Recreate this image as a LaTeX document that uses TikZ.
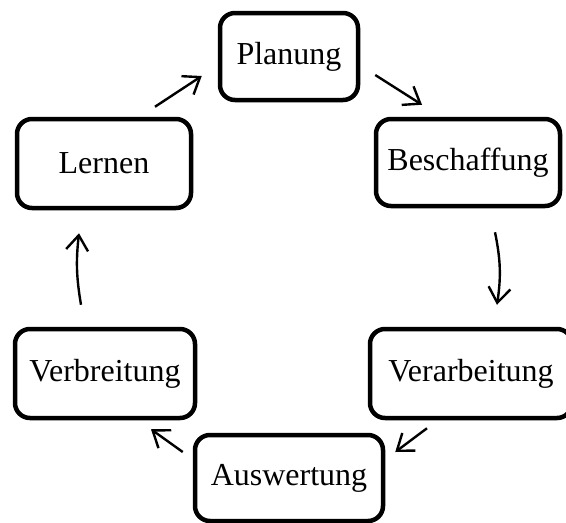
\documentclass[tikz,border=0pt]{standalone}
\usepackage{fontspec}
\setmainfont{Liberation Serif}
\usetikzlibrary{arrows.meta}

\begin{document}
\begin{tikzpicture}[x=1pt,y=-1pt,>={Straight Barb[length=15pt,width=22pt]},
  box/.style={draw, line width=4.5pt, rounded corners=15pt, align=center,
    font=\fontsize{32}{38}\selectfont},
  arr/.style={->, line width=2.4pt}]
\useasboundingbox (0,0) rectangle (566,523);
\node[box, minimum width=138, minimum height=87] (planung) at (289,56.5) {Planung};
\node[box, minimum width=184, minimum height=87] (beschaffung) at (468,162.5) {Beschaffung};
\node[box, minimum width=202, minimum height=89] (verarbeitung) at (471,373.5) {Verarbeitung};
\node[box, minimum width=188, minimum height=86] (auswertung) at (289,478) {Auswertung};
\node[box, minimum width=180, minimum height=89] (verbreitung) at (105,373.5) {Verbreitung};
\node[box, minimum width=174, minimum height=89] (lernen) at (104,163.5) {Lernen};
\draw[arr] ([shift={(51,-10)}]lernen.north) -- ([shift={(-16,19.5)}]planung.west);
\draw[arr] ([shift={(15,18.5)}]planung.east) -- ([shift={(-46,-12)}]beschaffung.north);
\draw[arr] ([shift={(27,24)}]beschaffung.south) to[bend left=10] ([shift={(26,-22)}]verarbeitung.north);
\draw[arr] ([shift={(-44,8)}]verarbeitung.south) -- ([shift={(10,-26)}]auswertung.east);
\draw[arr] ([shift={(-10,-26)}]auswertung.west) -- ([shift={(46,9)}]verbreitung.south);
\draw[arr] ([shift={(-24,-22)}]verbreitung.north) to[bend left=8] ([shift={(-25,23)}]lernen.south);
\end{tikzpicture}
\end{document}
